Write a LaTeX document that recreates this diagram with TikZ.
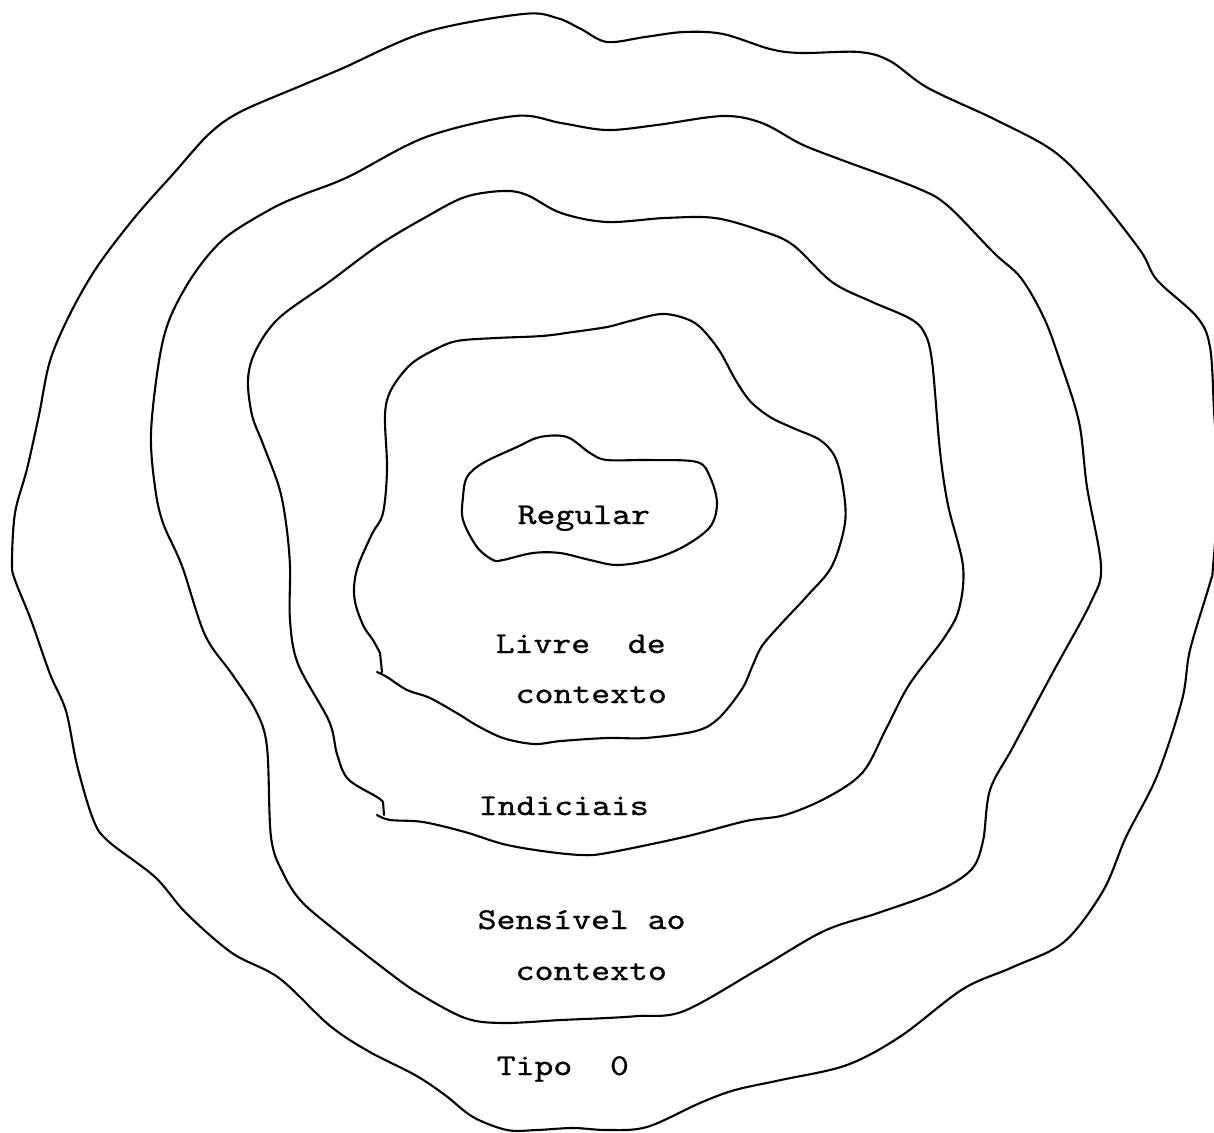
\documentclass[tikz,border=0pt]{standalone}
\usepackage{fontspec}
\newfontfamily\typewr[Extension=.otf,FakeStretch=1.19,FakeBold=0.8]{lmmono10-regular}
\begin{document}
\begin{tikzpicture}[x=0.01cm,y=-0.01cm,
  contour/.style={draw=black,line width=0.6pt,line join=round,line cap=round},
  lbl/.style={anchor=base west,inner sep=0pt,font=\typewr\fontsize{8.6pt}{10pt}\selectfont}]
\useasboundingbox (0,0) rectangle (1214,1133);
\clip (0,0) rectangle (1214,1133);
% Tipo 0
\draw[contour] plot[smooth cycle,tension=0.55] coordinates {
(426,32) (523,14) (557,18) (581,29) (607,42) (645,37) (684,32) (723,34) (770,49) (801,53) (859,52) (890,61) (928,88) (994,119) (1052,150) (1091,188) (1140,250) (1157,280) (1197,317) (1210,347) (1214,410) (1218,490) (1213,567) (1210,583) (1190,650) (1182,700) (1157,776) (1126,837) (1103,891) (1064,942) (1013,967) (963,989) (901,1036) (847,1065) (781,1080) (735,1090) (700,1103) (647,1127) (607,1130) (573,1128) (537,1130) (507,1130) (473,1117) (445,1095) (415,1075) (368,1051) (329,1025) (279,978) (232,953) (186,913) (155,877) (108,841) (93,819) (77,765) (66,711) (50,674) (31,620) (15,580) (12,563) (15,513) (27,469) (39,415) (50,361) (70,314) (97,267) (135,217) (174,173) (209,134) (240,112) (298,87) (341,69)};
% Sensivel ao contexto
\draw[contour] plot[smooth cycle,tension=0.55] coordinates {
(348,177) (426,137) (515,116) (561,123) (607,130) (657,125) (723,116) (762,123) (801,144) (839,159) (917,188) (948,206) (994,253) (1021,278) (1044,318) (1060,361) (1079,422) (1087,487) (1101,566) (1091,602) (1052,674) (1013,747) (990,790) (983,841) (971,870) (936,892) (878,913) (824,931) (762,967) (684,1011) (638,1016) (607,1018) (561,1020) (503,1023) (465,1018) (418,993) (387,971) (341,935) (302,902) (283,873) (271,837) (267,747) (256,711) (232,674) (205,635) (182,566) (163,523) (155,487) (151,433) (159,361) (170,318) (194,274) (225,238) (271,209) (302,195)};
% Indiciais
\draw[contour] plot[smooth,tension=0.55] coordinates {
(377,815) (390,820) (423,822) (465,832) (503,844) (542,851) (581,855) (607,853) (684,837) (746,821) (785,815) (828,797) (863,772) (886,729) (909,685) (944,638) (959,609) (963,566) (948,505) (940,451) (932,361) (924,332) (909,318) (870,301) (832,282) (793,245) (762,231) (715,218) (665,218) (607,222) (561,213) (527,195) (503,191) (465,197) (426,217) (379,245) (329,282) (279,318) (256,350) (248,379) (252,415) (263,444) (279,487) (286,523) (290,566) (290,620) (298,664) (329,721) (337,754) (348,779) (377,797) (383,802)} -- (384,815);
% Livre de contexto
\draw[contour] plot[smooth,tension=0.55] coordinates {
(377,672) (387,677) (407,690) (430,698) (460,715) (476,725) (503,738) (534,744) (561,741) (607,738) (646,738) (696,731) (719,718) (742,689) (752,667) (762,646) (781,624) (808,595) (832,566) (845,523) (843,487) (835,457) (820,440) (793,428) (770,417) (750,401) (735,379) (719,350) (700,327) (684,318) (661,314) (630,321) (607,327) (573,332) (542,336) (496,338) (457,341) (434,350) (410,365) (391,390) (385,415) (387,469) (383,513) (372,534) (358,566) (354,588) (356,606) (364,627) (373,640) (380,653)} -- (382,672);
% Regular
\draw[contour] plot[smooth cycle,tension=0.55] coordinates {
(463,497) (467,477) (483,463) (517,447) (540,437) (567,437) (590,453) (607,460) (650,460) (697,462) (710,477) (717,503) (710,527) (683,547) (650,560) (617,565) (590,560) (560,553) (533,553) (503,560) (493,560) (477,547) (463,520)};
% labels
\node[lbl] (reg) at (517,524) {Regular};
\node[lbl] (livre) at (495,653) {Livre\ \ de};
\node[lbl] (cfree) at (515,703) {contexto};
\node[lbl] (ind) at (478,815) {Indiciais};
\node[lbl] (sens) at (477,929) {Sensível ao};
\node[lbl] (csens) at (515,980) {contexto};
\node[lbl] (tipo) at (496,1075) {Tipo\ \ 0};
\end{tikzpicture}
\end{document}
